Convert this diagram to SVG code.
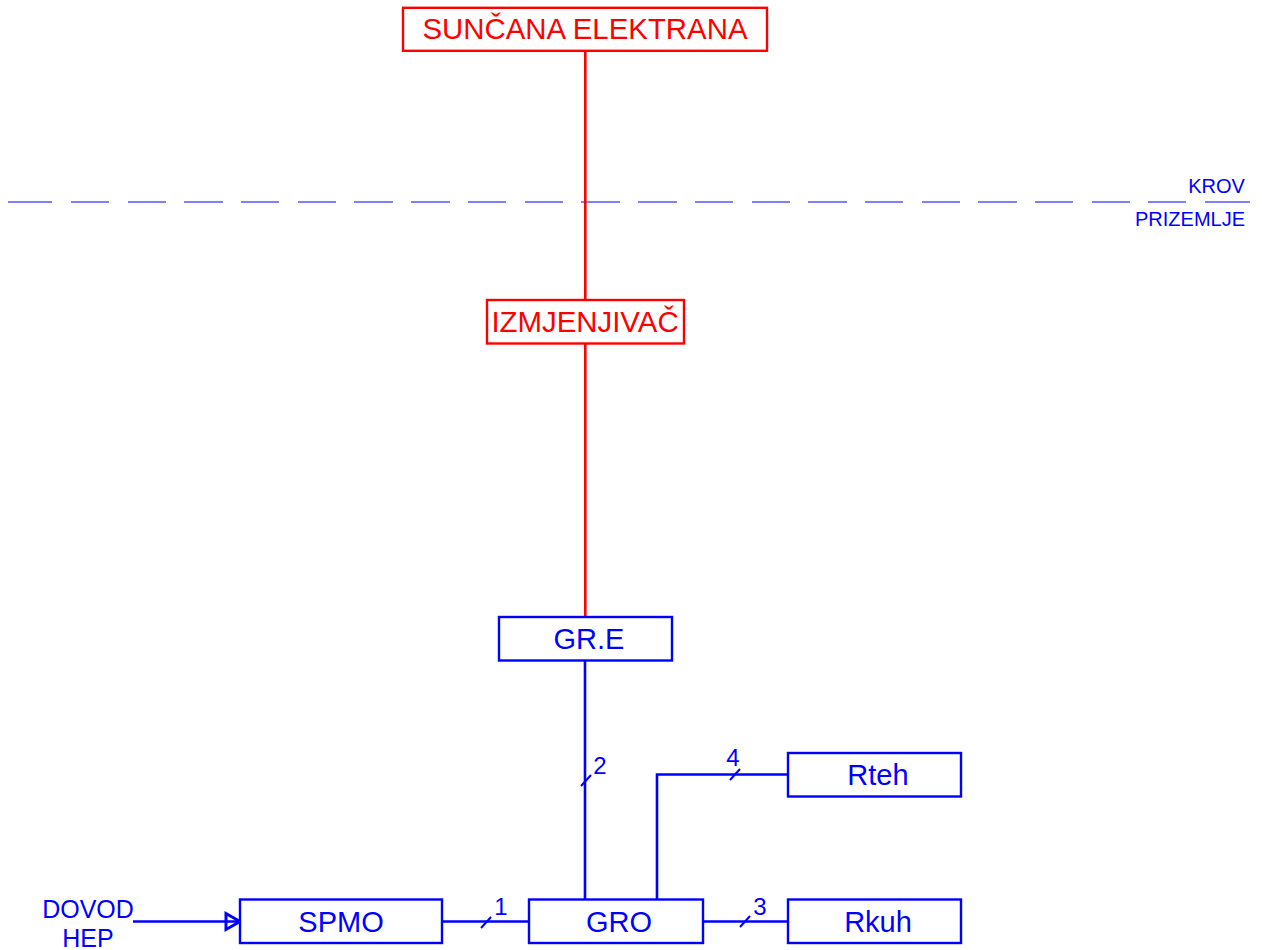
<svg xmlns="http://www.w3.org/2000/svg" width="1262" height="950" viewBox="0 0 1262 950">
<style>
text{font-family:"Liberation Sans",Arial,sans-serif;text-anchor:middle}
.b{fill:#fff;stroke-width:2.400}
.blue{stroke:#0000ff}.red{stroke:#ff0000}
.tb{fill:#0000ff}.tr{fill:#ff0000}
.l{font-size:29px}.xl{font-size:29.400px}.s{font-size:20px}.m{font-size:25px}.n{font-size:24px}
.c{fill:none;stroke-width:2.600}
.t{fill:none;stroke:#0000ff;stroke-width:2}
</style>
<rect width="1262" height="950" fill="#fff"/>
<g id="connectors">
<path fill="none" stroke="#7f7fff" stroke-width="2" d="M8 202H52M71 202H109M128 202H166M184 202H223M241 202H279M298 202H336M354 202H393M411 202H450M468 202H506M525 202H563M581 202H620M638 202H677M695 202H733M752 202H790M808 202H847M865 202H903M922 202H960M978 202H1017M1035 202H1073M1092 202H1130M1148 202H1186M1205 202H1250"/>
<path class="c red" d="M585.300 51V300M585.300 344V617"/>
<path class="c blue" d="M585 661V899M657 899V774.500H788M442 921.500H529M703 921.500H788M133 921.500H240"/>
<path class="t" d="M581 786L591 775M730 780L740 769M481 928L491 917M740 927L750 916"/>
<path fill="none" stroke="#0000ff" stroke-width="3" d="M226 913.500V929.500L240 921.500Z"/>
</g>
<g id="suncana"><rect class="b red" x="403" y="7.800" width="364" height="43"/><text class="xl tr" x="585" y="39">SUNČANA ELEKTRANA</text></g>
<g id="izmjenjivac"><rect class="b red" x="487" y="300" width="197" height="43.500"/><text class="xl tr" x="585" y="332">IZMJENJIVAČ</text></g>
<g id="gre"><rect class="b blue" x="499" y="617" width="173" height="43.500"/><text class="l tb" x="589" y="649">GR.E</text></g>
<g id="rteh"><rect class="b blue" x="788" y="753" width="173" height="43.500"/><text class="l tb" x="878" y="785">Rteh</text></g>
<g id="spmo"><rect class="b blue" x="240" y="899.500" width="202" height="43.500"/><text class="l tb" x="341" y="932">SPMO</text></g>
<g id="gro"><rect class="b blue" x="529" y="899.500" width="174" height="43.500"/><text class="l tb" x="619" y="932">GRO</text></g>
<g id="rkuh"><rect class="b blue" x="788" y="899.500" width="173" height="43.500"/><text class="l tb" x="878" y="932">Rkuh</text></g>
<g id="labels">
<text class="s tb" x="1216.500" y="193">KROV</text>
<text class="s tb" x="1190" y="226">PRIZEMLJE</text>
<text class="m tb" x="88" y="918">DOVOD</text>
<text class="m tb" x="88" y="947">HEP</text>
<text class="n tb" x="600" y="774">2</text>
<text class="n tb" x="733" y="766">4</text>
<text class="n tb" x="501" y="915">1</text>
<text class="n tb" x="760" y="915">3</text>
</g>
</svg>
